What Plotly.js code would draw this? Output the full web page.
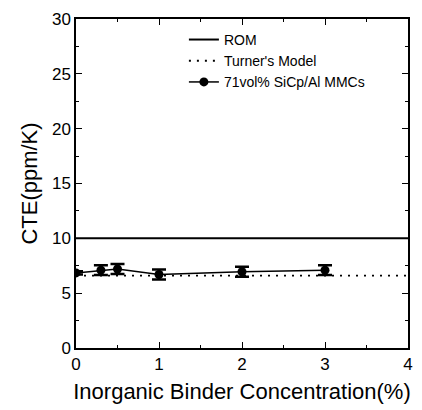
<!DOCTYPE html>
<html><head><meta charset="utf-8">
<script src="https://cdn.plot.ly/plotly-3.0.1.min.js"></script>
<style>body{margin:0;background:#fff}#c{width:422px;height:410px}</style>
</head><body><div id="c"></div>
<script>
const romX = [0, 4];
const romY = [10, 10];
const turnerX = [0, 4];
const turnerY = [6.6, 6.6];
const binder = [0, 0.3, 0.5, 1, 2, 3];
const cte = [6.85, 7.1, 7.2, 6.7, 6.95, 7.1];
const cteErr = [0.15, 0.45, 0.45, 0.45, 0.45, 0.45];

const font = "Liberation Sans, Arial, sans-serif";
const traces = [
  {x: romX, y: romY, mode: 'lines', name: 'ROM', line: {color: '#000', width: 2}},
  {x: turnerX, y: turnerY, mode: 'lines', name: "Turner's Model", line: {color: '#000', width: 1.8, dash: '2px,6px'}},
  {x: binder, y: cte, mode: 'lines+markers', name: '71vol% SiCp/Al MMCs',
   line: {color: '#000', width: 1.5}, marker: {color: '#000', size: 9, symbol: 'circle'},
   error_y: {type: 'data', array: cteErr, visible: true, color: '#000', thickness: 2.5, width: 7}}
];
const axisCommon = {
  showgrid: false, zeroline: false, showline: true, linecolor: '#000', linewidth: 1.5,
  mirror: 'ticks', ticks: 'inside', ticklen: 6, tickwidth: 1.2, tickcolor: '#000',
  tickfont: {family: font, size: 17, color: '#000'},
  minor: {ticks: 'inside', ticklen: 3, tickcolor: '#000', tickwidth: 1}
};
const layout = {
  width: 422, height: 410,
  margin: {l: 76, r: 14, t: 19, b: 62},
  paper_bgcolor: '#fff', plot_bgcolor: '#fff',
  showlegend: true,
  legend: {x: 0.325, y: 0.985, xanchor: 'left', yanchor: 'top', bgcolor: 'rgba(0,0,0,0)',
    font: {family: font, size: 14, color: '#000'}, tracegroupgap: 0, itemwidth: 30},
  xaxis: Object.assign({}, axisCommon, {range: [0, 4], dtick: 1,
    minor: Object.assign({}, axisCommon.minor, {dtick: 0.5}),
    title: {text: 'Inorganic Binder Concentration(%)', font: {family: font, size: 22, color: '#000'}, standoff: 10}}),
  yaxis: Object.assign({}, axisCommon, {range: [0, 30], dtick: 5,
    minor: Object.assign({}, axisCommon.minor, {dtick: 2.5}),
    title: {text: 'CTE(ppm/K)', font: {family: font, size: 22, color: '#000'}, standoff: 8}})
};
Plotly.newPlot('c', traces, layout, {displayModeBar: false});
</script></body></html>
